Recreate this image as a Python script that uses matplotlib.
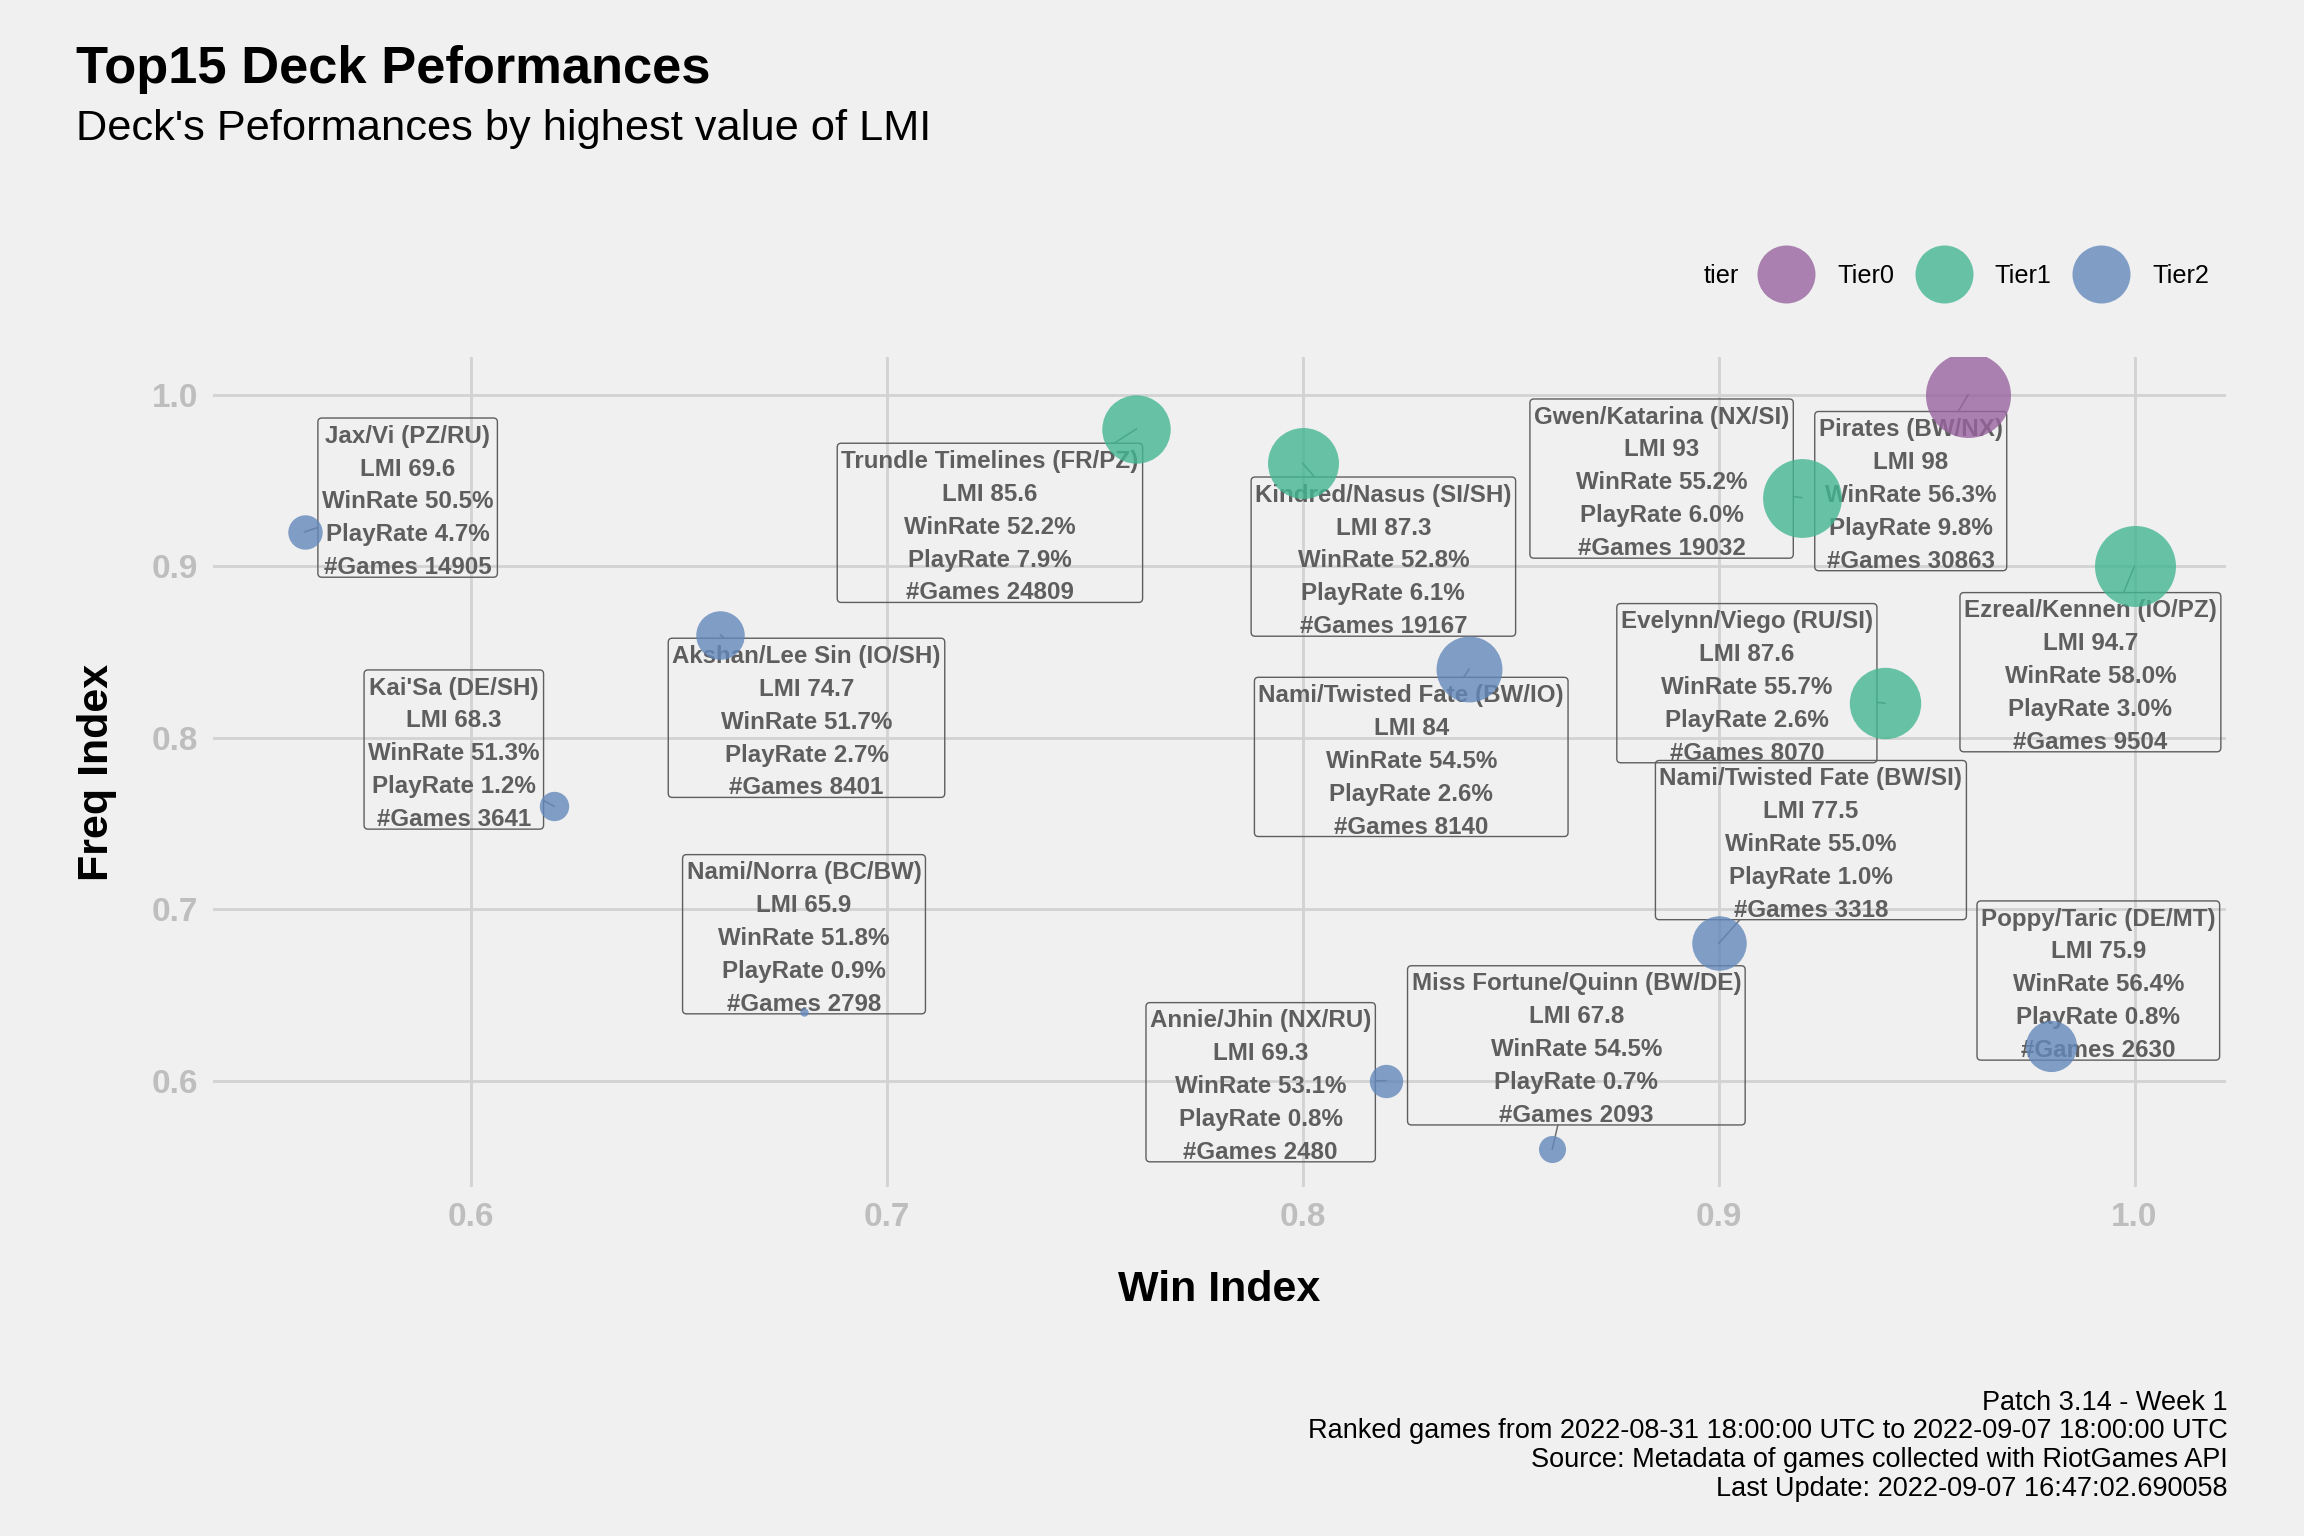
import matplotlib
matplotlib.use("Agg")
import matplotlib.pyplot as plt
from matplotlib.lines import Line2D
from matplotlib.patches import FancyBboxPatch
from matplotlib.transforms import IdentityTransform, ScaledTranslation
import numpy as np

plt.rcParams['font.family'] = ['Liberation Sans', 'DejaVu Sans']

# data
decks = ["Pirates (BW/NX)", "Ezreal/Kennen (IO/PZ)", "Gwen/Katarina (NX/SI)",
         "Evelynn/Viego (RU/SI)", "Kindred/Nasus (SI/SH)", "Trundle Timelines (FR/PZ)",
         "Nami/Twisted Fate (BW/IO)", "Nami/Twisted Fate (BW/SI)", "Poppy/Taric (DE/MT)",
         "Akshan/Lee Sin (IO/SH)", "Jax/Vi (PZ/RU)", "Annie/Jhin (NX/RU)",
         "Kai'Sa (DE/SH)", "Miss Fortune/Quinn (BW/DE)", "Nami/Norra (BC/BW)"]
tiers = ["Tier0", "Tier1", "Tier1", "Tier1", "Tier1", "Tier1", "Tier2", "Tier2",
         "Tier2", "Tier2", "Tier2", "Tier2", "Tier2", "Tier2", "Tier2"]
win_index = [0.96, 1.00, 0.92, 0.94, 0.80, 0.76, 0.84, 0.90, 0.98, 0.66, 0.56, 0.82, 0.62, 0.86, 0.68]
freq_index = [1.00, 0.90, 0.94, 0.82, 0.96, 0.98, 0.84, 0.68, 0.62, 0.86, 0.92, 0.60, 0.76, 0.56, 0.64]
lmi = [98, 94.7, 93, 87.6, 87.3, 85.6, 84, 77.5, 75.9, 74.7, 69.6, 69.3, 68.3, 67.8, 65.9]
win_rate = [56.3, 58.0, 55.2, 55.7, 52.8, 52.2, 54.5, 55.0, 56.4, 51.7, 50.5, 53.1, 51.3, 54.5, 51.8]
play_rate = [9.8, 3.0, 6.0, 2.6, 6.1, 7.9, 2.6, 1.0, 0.8, 2.7, 4.7, 0.8, 1.2, 0.7, 0.9]
games = [30863, 9504, 19032, 8070, 19167, 24809, 8140, 3318, 2630, 8401, 14905, 2480, 3641, 2093, 2798]

# where the repelled labels ended up (box centres, data units)
label_x = [0.9462, 0.9894, 0.8863, 0.9068, 0.8194, 0.7248, 0.8261, 0.9222, 0.9913,
           0.6807, 0.5848, 0.7899, 0.5959, 0.8658, 0.6801]
label_y = [0.9438, 0.8382, 0.9511, 0.8318, 0.9056, 0.9253, 0.7888, 0.7403, 0.6584,
           0.8116, 0.9400, 0.5991, 0.7931, 0.6206, 0.6854]

tier_names = ["Tier0", "Tier1", "Tier2"]
tier_colors = {"Tier0": "#98649F", "Tier1": "#43B692", "Tier2": "#6388BB"}
ALPHA = 0.8
label_col = "#5E5E5E"

bg = "#F0F0F0"
W, H, DPI = 2304, 1536, 200
fig = plt.figure(figsize=(W / DPI, H / DPI), dpi=DPI, facecolor=bg)
ax = fig.add_axes([213 / W, 1 - 1187 / H, (2226 - 213) / W, (1187 - 357) / H])
ax.set_facecolor(bg)

# size scale: area grows with LMI
lmi_arr = np.array(lmi, dtype=float)
rel = (lmi_arr - lmi_arr.min()) / (lmi_arr.max() - lmi_arr.min())
diam_px = 8.4 + 76.6 * np.sqrt(rel)
ms = diam_px * 72 / DPI

for i in range(len(decks)):
    ax.plot(win_index[i], freq_index[i], 'o', ms=ms[i], color=tier_colors[tiers[i]],
            alpha=ALPHA, mec='none', zorder=5)

ax.set_xlim(0.538, 1.022)
ax.set_ylim(0.538, 1.022)
ax.set_xticks([0.6, 0.7, 0.8, 0.9, 1.0])
ax.set_yticks([0.6, 0.7, 0.8, 0.9, 1.0])
ax.grid(True, color="#D2D2D2", lw=1.0, zorder=0)
ax.set_axisbelow(True)
for s in ax.spines.values():
    s.set_visible(False)
ax.tick_params(length=0, pad=5.4, labelsize=12, labelcolor="#BEBEBE")
for t in ax.get_xticklabels() + ax.get_yticklabels():
    t.set_fontweight('bold')

ax.set_xlabel("Win Index", fontsize=15.5, fontweight='bold')
ax.set_ylabel("Freq Index", fontsize=15.5, fontweight='bold')
ax.xaxis.set_label_coords(0.5, -0.124)
ax.xaxis.label.set_va('center')
ax.yaxis.set_label_coords(-0.0576, 0.5)
ax.yaxis.label.set_va('center')

# label text, nudged down a little inside its box
PAD_TOP, PAD_BOT, PAD_SIDE = 6.6, -2.0, 4.0   # pixels
shift = (PAD_TOP - PAD_BOT) / 2 * 72 / DPI / 72
text_tr = ax.transData + ScaledTranslation(0, -shift, fig.dpi_scale_trans)
texts = []
for i in range(len(decks)):
    txt = (f"{decks[i]}\nLMI {lmi[i]:g}\nWinRate {win_rate[i]:.1f}%\n"
           f"PlayRate {play_rate[i]:.1f}%\n#Games {games[i]}")
    t = ax.text(label_x[i], label_y[i], txt, ha='center', va='center', ma='center',
                fontsize=8.7, fontweight='bold', color=label_col, linespacing=1.55,
                zorder=3, transform=text_tr)
    texts.append(t)

fig.canvas.draw()
renderer = fig.canvas.get_renderer()
inv = ax.transData.inverted()
for i, t in enumerate(texts):
    ext = t.get_window_extent(renderer)
    x0, x1 = ext.x0 - PAD_SIDE, ext.x1 + PAD_SIDE
    y0, y1 = ext.y0 - PAD_BOT, ext.y1 + PAD_TOP
    box = FancyBboxPatch((x0, y0), x1 - x0, y1 - y0,
                         boxstyle='round,pad=0,rounding_size=4', fc='none',
                         ec=label_col, lw=0.5, transform=IdentityTransform(), zorder=3)
    ax.add_artist(box)

    # segment from the point towards the box centre, stopping at the box edge
    px, py = ax.transData.transform((win_index[i], freq_index[i]))
    cx, cy = (x0 + x1) / 2, (y0 + y1) / 2
    if x0 <= px <= x1 and y0 <= py <= y1:
        continue
    dx, dy = cx - px, cy - py
    ts = []
    if dx != 0:
        for xe in (x0, x1):
            s = (xe - px) / dx
            if 0 < s <= 1 and y0 - 1e-6 <= py + s * dy <= y1 + 1e-6:
                ts.append(s)
    if dy != 0:
        for ye in (y0, y1):
            s = (ye - py) / dy
            if 0 < s <= 1 and x0 - 1e-6 <= px + s * dx <= x1 + 1e-6:
                ts.append(s)
    if not ts:
        continue
    s = min(ts)
    p0 = inv.transform((px, py))
    p1 = inv.transform((px + s * dx, py + s * dy))
    ax.plot([p0[0], p1[0]], [p0[1], p1[1]], color="#6E6E6E", lw=0.55, zorder=3)

# legend
handles = [Line2D([], [], ls='none', marker='o', ms=58 * 72 / DPI,
                  color=tier_colors[n], alpha=ALPHA, mec='none') for n in tier_names]
fig.legend(handles, tier_names, loc='center left', bbox_to_anchor=(1756 / W, 1 - 276 / H),
           ncol=3, frameon=False, fontsize=9.1, handlelength=2.4, handletextpad=0.8,
           columnspacing=0.78, borderpad=0, borderaxespad=0)
fig.text(1704 / W, 1 - 276 / H, "tier", fontsize=9.1, va='center', ha='left')

# titles
fig.text(76 / W, 1 - 83 / H, "Top15 Deck Peformances", fontsize=18.9, fontweight='bold',
         va='baseline', ha='left')
fig.text(76 / W, 1 - 140 / H, "Deck's Peformances by highest value of LMI", fontsize=15.6,
         va='baseline', ha='left')

caption = ["Patch 3.14 - Week 1",
           "Ranked games from 2022-08-31 18:00:00 UTC to 2022-09-07 18:00:00 UTC",
           "Source: Metadata of games collected with RiotGames API",
           "Last Update: 2022-09-07 16:47:02.690058"]
for k, line in enumerate(caption):
    fig.text(2228 / W, 1 - (1410 + 28.5 * k) / H, line, fontsize=9.75, va='baseline', ha='right')

fig.savefig("out.png", dpi=DPI, facecolor=bg)
